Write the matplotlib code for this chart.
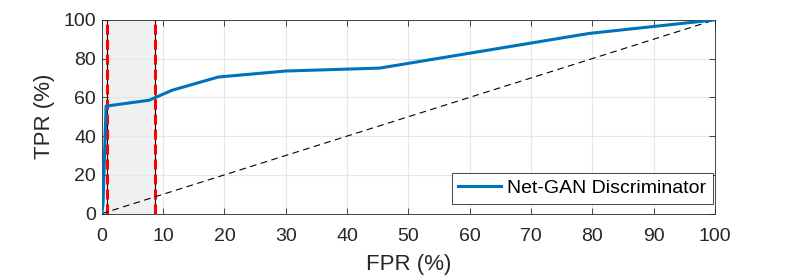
import matplotlib
matplotlib.use('Agg')
import matplotlib.pyplot as plt

# ROC curve points (%)
fpr = [0, 0.2, 0.7, 7.7, 11.5, 19, 30, 45.3, 79.5, 100]
tpr = [0, 5, 55.5, 58.5, 63.7, 70.5, 73.6, 75.1, 93, 100]
series_label = 'Net-GAN Discriminator'

# shaded threshold window (FPR %)
win_left = 0.8
win_right = 8.7

plt.rcParams['font.family'] = ['Liberation Sans', 'DejaVu Sans']

fig = plt.figure(figsize=(7.89, 2.76), dpi=100)
ax = fig.add_axes([0.129, 0.226, 0.777, 0.702])

ax.axvspan(0, win_right, color='#f0f0f0', zorder=0)
for xv in (win_left, win_right):
    ax.axvline(xv, color='black', lw=0.8, zorder=1)
    ax.axvline(xv, color='red', lw=2.2, ls=(0, (3.3, 1.6)), zorder=2)

ax.plot([0, 100], [0, 100], color='black', lw=0.8, ls=(0, (6, 4)), zorder=3)
ax.plot(fpr, tpr, color='#0072BD', lw=2.2, label=series_label, zorder=4)

ax.set_xlim(0, 100)
ax.set_ylim(0, 100)
ax.set_xticks(range(0, 101, 10))
ax.set_yticks(range(0, 101, 20))
ax.grid(True, color='#e6e6e6', lw=0.8)
ax.set_axisbelow(True)
ax.tick_params(direction='in', top=True, right=True, length=4, width=0.6,
               labelsize=14, colors='#262626')
ax.tick_params(axis='x', pad=10)
ax.tick_params(axis='y', pad=4)
for s in ax.spines.values():
    s.set_linewidth(0.6)
    s.set_color('#262626')

ax.set_xlabel('FPR (%)', fontsize=16, color='#262626', labelpad=7)
ax.set_ylabel('TPR (%)', fontsize=16, color='#262626', labelpad=6)

leg = ax.legend(loc='lower right', bbox_to_anchor=(0.997, 0.05), fontsize=14,
                fancybox=False, framealpha=1, edgecolor='#262626',
                handlelength=2.2, borderpad=0.35, handletextpad=0.3,
                borderaxespad=0)
leg.get_frame().set_linewidth(0.6)

fig.savefig('out.png', dpi=100)
